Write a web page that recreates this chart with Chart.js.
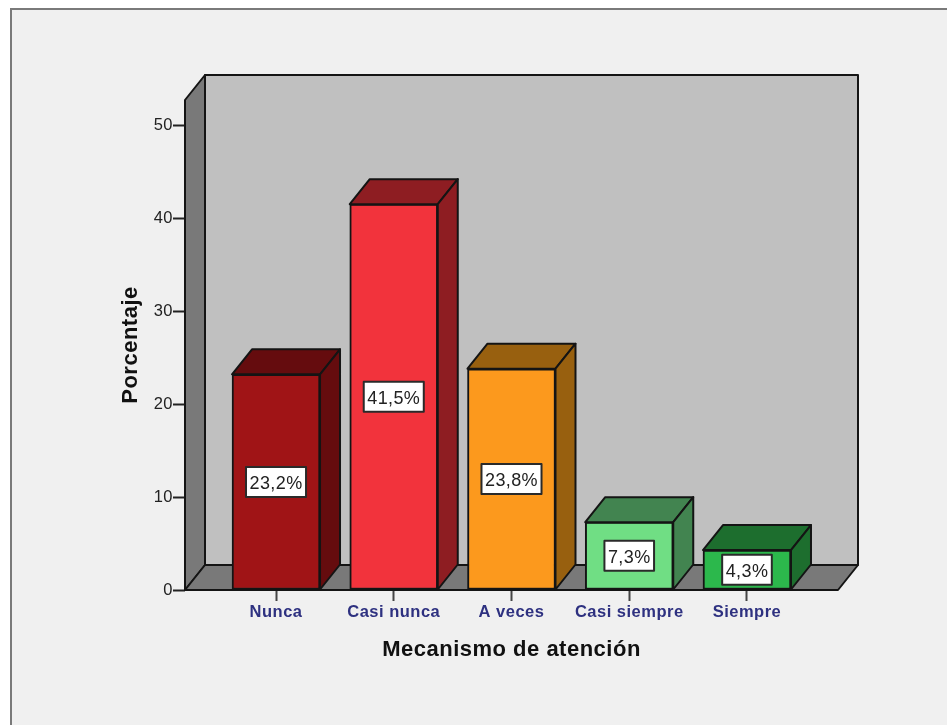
<!DOCTYPE html>
<html>
<head>
<meta charset="utf-8">
<title>Mecanismo de atención</title>
<script src="https://cdn.jsdelivr.net/npm/chart.js@4"></script>
<style>
  html, body { margin: 0; padding: 0; background: #fff; overflow: hidden; }
  #panel { position: absolute; left: 10px; top: 8px; width: 937px; height: 717px; background: #f0f0f0;
           border-top: 2px solid #7a7a7a; border-left: 2px solid #7a7a7a; box-sizing: border-box; }
  #chart { position: absolute; left: 0; top: 0; }
</style>
</head>
<body>
<div id="panel"></div>
<canvas id="chart" width="947" height="725"></canvas>
<script>
const categories = ['Nunca', 'Casi nunca', 'A veces', 'Casi siempre', 'Siempre'];
const percentages = [23.2, 41.5, 23.8, 7.3, 4.3];
const yTicks = [0, 10, 20, 30, 40, 50];
const frontColors = ['#a01416', '#f2333c', '#fc991d', '#70de84', '#2cb84c'];
const shadeColors = ['#650c0e', '#8e1d22', '#98600f', '#428450', '#1d6e2e'];

// depth of the fake 3D box, in pixels
const depthX = 20;
const depthY = 25;
const edge = '#141414';

function poly(ctx, pts, fill) {
  ctx.beginPath();
  pts.forEach((p, i) => i ? ctx.lineTo(p[0], p[1]) : ctx.moveTo(p[0], p[1]));
  ctx.closePath();
  ctx.fillStyle = fill;
  ctx.fill();
  ctx.lineWidth = 2;
  ctx.lineJoin = 'round';
  ctx.strokeStyle = edge;
  ctx.stroke();
}

const box3d = {
  id: 'box3d',
  beforeDraw(chart) {
    // the original text is spaced out a little
    chart.ctx.letterSpacing = '0.5px';
  },
  beforeDatasetsDraw(chart) {
    const ctx = chart.ctx;
    const a = chart.chartArea;
    ctx.save();
    poly(ctx, [[a.left + depthX, a.top - depthY], [a.right + depthX, a.top - depthY],
               [a.right + depthX, a.bottom - depthY], [a.left + depthX, a.bottom - depthY]], '#c0c0c0');
    poly(ctx, [[a.left, a.top], [a.left + depthX, a.top - depthY],
               [a.left + depthX, a.bottom - depthY], [a.left, a.bottom]], '#797979');
    poly(ctx, [[a.left, a.bottom], [a.left + depthX, a.bottom - depthY],
               [a.right + depthX, a.bottom - depthY], [a.right, a.bottom]], '#797979');
    ctx.restore();
  },
  afterDatasetsDraw(chart) {
    const ctx = chart.ctx;
    ctx.save();
    chart.getDatasetMeta(0).data.forEach((bar, i) => {
      const l = bar.x - bar.width / 2;
      const r = bar.x + bar.width / 2;
      poly(ctx, [[l, bar.y], [l + depthX, bar.y - depthY], [r + depthX, bar.y - depthY], [r, bar.y]], shadeColors[i]);
      poly(ctx, [[r, bar.y], [r + depthX, bar.y - depthY], [r + depthX, bar.base - depthY], [r, bar.base]], shadeColors[i]);

      // value label in its white box
      const text = percentages[i].toFixed(1).replace('.', ',') + '%';
      ctx.font = '18px "Liberation Sans", Arial, sans-serif';
      ctx.letterSpacing = '0.4px';
      const w = ctx.measureText(text).width + 7;
      const h = 30;
      const cy = (bar.y + bar.base) / 2;
      ctx.fillStyle = '#fff';
      ctx.fillRect(bar.x - w / 2, cy - h / 2, w, h);
      ctx.lineWidth = 2;
      ctx.strokeStyle = '#2a2a2a';
      ctx.strokeRect(bar.x - w / 2, cy - h / 2, w, h);
      ctx.fillStyle = '#222';
      ctx.textAlign = 'center';
      ctx.textBaseline = 'middle';
      ctx.fillText(text, bar.x, cy + 2);
    });
    ctx.restore();
  }
};

new Chart(document.getElementById('chart'), {
  type: 'bar',
  data: {
    datasets: [{
      data: percentages.map((v, i) => ({ x: i, y: v })),
      backgroundColor: frontColors,
      borderColor: edge,
      borderWidth: 2,
      borderSkipped: false,
      barThickness: 88
    }]
  },
  options: {
    responsive: false,
    animation: false,
    layout: { padding: { left: 118, right: 109, top: 100, bottom: 60 } },
    plugins: { legend: { display: false }, tooltip: { enabled: false } },
    scales: {
      x: {
        type: 'linear',
        offset: false,
        min: -0.773,
        max: 4.773,
        afterBuildTicks: s => { s.ticks = categories.map((c, i) => ({ value: i })); },
        afterFit: s => { s.height = 75; },
        grid: { offset: false, drawOnChartArea: false, drawTicks: true, tickLength: 11, tickColor: '#444', tickWidth: 2 },
        border: { display: false },
        ticks: {
          autoSkip: false,
          maxRotation: 0,
          padding: 2,
          color: '#2e3180',
          font: { family: '"Liberation Sans", Arial, sans-serif', size: 16.5, weight: 'bold' },
          callback: v => categories[v]
        },
        title: {
          display: true,
          text: 'Mecanismo de atención',
          color: '#111',
          padding: { top: 0, bottom: 2 },
          font: { family: '"Liberation Sans", Arial, sans-serif', size: 22, weight: 'bold' }
        }
      },
      y: {
        min: 0,
        max: 52.7,
        afterBuildTicks: s => { s.ticks = yTicks.map(v => ({ value: v })); },
        afterFit: s => { s.width = 67; },
        grid: { drawOnChartArea: false, drawTicks: true, tickLength: 12, tickColor: '#222', tickWidth: 2 },
        border: { display: false },
        ticks: {
          padding: 0,
          color: '#222',
          font: { family: '"Liberation Sans", Arial, sans-serif', size: 16.5 }
        },
        title: {
          display: true,
          text: 'Porcentaje',
          color: '#111',
          padding: 0,
          font: { family: '"Liberation Sans", Arial, sans-serif', size: 22, weight: 'bold' }
        }
      }
    }
  },
  plugins: [box3d]
});
</script>
</body>
</html>
